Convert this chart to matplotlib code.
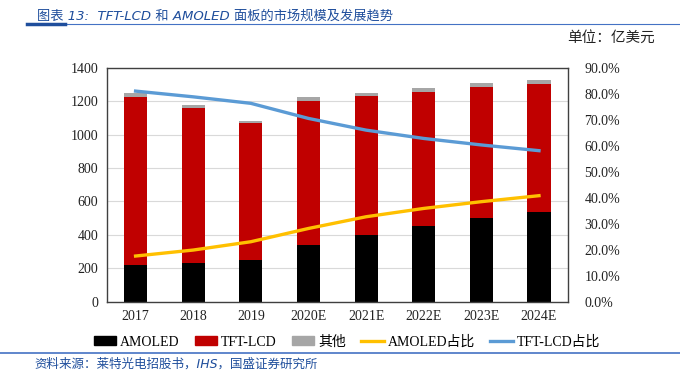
import numpy as np
import matplotlib.pyplot as plt
from matplotlib.ticker import PercentFormatter
from matplotlib.lines import Line2D
from matplotlib.patches import Patch

plt.rcParams['font.family'] = ['Liberation Serif', 'Noto Sans CJK SC']

years = ["2017", "2018", "2019", "2020E", "2021E", "2022E", "2023E", "2024E"]
amoled = [220, 233, 250, 339, 399, 455, 501, 537]
tft_lcd = [1007, 924, 821, 864, 832, 802, 786, 768]
other = [20, 20, 10, 20, 20, 20, 20, 20]
amoled_share = [17.6, 19.9, 23.1, 28.2, 32.7, 35.9, 38.5, 40.8]
tft_share = [81.0, 78.8, 76.3, 70.5, 66.0, 62.8, 60.3, 58.1]

blue = "#1F4E9C"

fig = plt.figure(figsize=(6.8, 3.74), dpi=100)
ax = fig.add_axes([0.157, 0.193, 0.678, 0.626])

x = np.arange(len(years))
bottom2 = np.array(amoled) + np.array(tft_lcd)
ax.bar(x, amoled, width=0.4, color="black", zorder=2)
ax.bar(x, tft_lcd, width=0.4, bottom=amoled, color="#C00000", zorder=2)
ax.bar(x, other, width=0.4, bottom=bottom2, color="#A6A6A6", zorder=2)

ax.set_xlim(-0.5, 7.5)
ax.set_ylim(0, 1400)
ax.set_yticks(range(0, 1401, 200))
ax.set_xticks(x)
ax.set_xticklabels(years)
ax.yaxis.grid(True, color="#D9D9D9", lw=0.8, zorder=0)
ax.set_axisbelow(True)
ax.tick_params(length=0, labelsize=10, colors="#222222", pad=6)
for s in ax.spines.values():
    s.set_color("#404040")
    s.set_linewidth(1)

ax2 = ax.twinx()
ax2.plot(x, amoled_share, color="#FFC000", lw=2.4, zorder=3)
ax2.plot(x, tft_share, color="#5B9BD5", lw=2.4, zorder=3)
ax2.set_ylim(0, 90)
ax2.set_yticks(range(0, 91, 10))
ax2.yaxis.set_major_formatter(PercentFormatter(decimals=1))
ax2.tick_params(length=0, labelsize=10, colors="#222222", pad=12)
for s in ax2.spines.values():
    s.set_visible(False)

handles = [Patch(color="black"), Patch(color="#C00000"), Patch(color="#A6A6A6"),
           Line2D([], [], color="#FFC000", lw=2.4), Line2D([], [], color="#5B9BD5", lw=2.4)]
labels = ["AMOLED", "TFT-LCD", "其他", "AMOLED占比", "TFT-LCD占比"]
fig.legend(handles, labels, loc="center", bbox_to_anchor=(0.51, 0.086), ncol=5,
           frameon=False, fontsize=10, handlelength=1.6, handleheight=0.6,
           handletextpad=0.3, columnspacing=1.1)

# title, unit, source
fig.text(0.054, 0.975, "图表 13:  TFT-LCD 和 AMOLED 面板的市场规模及发展趋势", color=blue,
         fontsize=9.5, style="italic", va="top", family=["DejaVu Sans", "Noto Sans CJK SC"])
fig.add_artist(Line2D([0.04, 1.0], [0.937, 0.937], color="#4472C4", lw=0.8))
fig.add_artist(Line2D([0.04, 0.096], [0.935, 0.935], color=blue, lw=2.5))
fig.text(0.963, 0.9, "单位：亿美元", fontsize=10.5, ha="right", va="center",
         family=["Noto Sans CJK SC"], color="#222222")
fig.add_artist(Line2D([0.0, 1.0], [0.055, 0.055], color="#4472C4", lw=1.2))
fig.text(0.05, 0.025, "资料来源：莱特光电招股书，IHS，国盛证券研究所", color=blue,
         fontsize=9, style="italic", va="center", family=["DejaVu Sans", "Noto Sans CJK SC"])

fig.savefig("out.png", dpi=100)
